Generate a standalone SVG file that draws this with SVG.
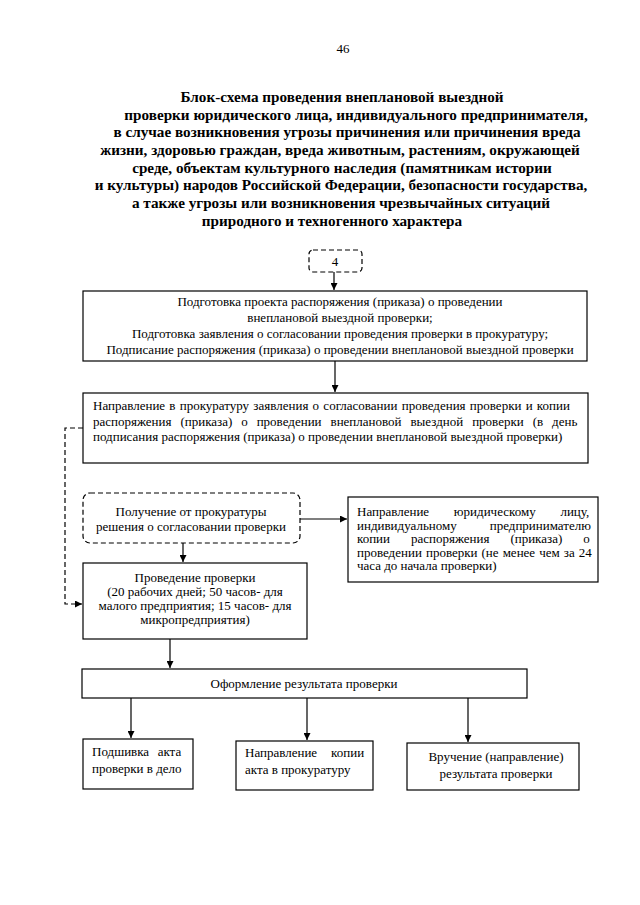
<svg xmlns="http://www.w3.org/2000/svg" width="640" height="905" viewBox="0 0 640 905">
<defs>
<marker id="ah" viewBox="0 0 10 10" refX="10" refY="5" markerWidth="7" markerHeight="7" markerUnits="userSpaceOnUse" orient="auto">
<path d="M0,0 L10,5 L0,10 z" fill="#000"/>
</marker>
<style>
.t{font-family:"Liberation Serif","Times New Roman",serif;font-size:13px;fill:#000}
.h{font-family:"Liberation Serif","Times New Roman",serif;font-size:15.2px;font-weight:bold;fill:#000;text-anchor:middle}
.c{text-anchor:middle}
.box{fill:#fff;stroke:#000;stroke-width:1.2}
.dbox{fill:#fff;stroke:#000;stroke-width:1.2;stroke-dasharray:5 3}
.ln{fill:none;stroke:#000;stroke-width:1.2}
.dl{fill:none;stroke:#000;stroke-width:1.2;stroke-dasharray:5 3}
</style>
</defs>
<rect width="640" height="905" fill="#fff"/>
<text class="t c" x="343" y="53">46</text>
<g id="title">
<text class="h" x="342" y="102">Блок-схема проведения внеплановой выездной</text>
<text class="h" x="356" y="120">проверки юридического лица, индивидуального предпринимателя,</text>
<text class="h" x="347" y="137">в случае возникновения угрозы причинения или причинения вреда</text>
<text class="h" x="340" y="155">жизни, здоровью граждан, вреда животным, растениям, окружающей</text>
<text class="h" x="342" y="173">среде, объектам культурного наследия (памятникам истории</text>
<text class="h" x="341" y="190">и культуры) народов Российской Федерации, безопасности государства,</text>
<text class="h" x="341" y="208">а также угрозы или возникновения чрезвычайных ситуаций</text>
<text class="h" x="332" y="226">природного и техногенного характера</text>
</g>
<g id="connectors">
<path class="ln" d="M334,272 V290" marker-end="url(#ah)"/>
<path class="ln" d="M335,361 V392" marker-end="url(#ah)"/>
<path class="dl" d="M83,428 H65 V604 H82" marker-end="url(#ah)"/>
<path class="ln" d="M300,519 H347" marker-end="url(#ah)"/>
<path class="ln" d="M183,543 V562" marker-end="url(#ah)"/>
<path class="ln" d="M170,639 V668" marker-end="url(#ah)"/>
<path class="ln" d="M131,698 V738" marker-end="url(#ah)"/>
<path class="ln" d="M307,698 V740" marker-end="url(#ah)"/>
<path class="ln" d="M468,698 V742" marker-end="url(#ah)"/>
</g>
<g id="n4">
<rect class="dbox" x="309" y="250" width="53" height="22" rx="4"/>
<text class="t c" x="335" y="266">4</text>
</g>
<g id="n1">
<rect class="box" x="83" y="291" width="504" height="70"/>
<text class="t c" x="340" y="306">Подготовка проекта распоряжения (приказа) о проведении</text>
<text class="t c" x="340" y="322">внеплановой выездной проверки;</text>
<text class="t c" x="340" y="338">Подготовка заявления о согласовании проведения проверки в прокуратуру;</text>
<text class="t c" x="340" y="354">Подписание распоряжения (приказа) о проведении внеплановой выездной проверки</text>
</g>
<g id="n2">
<rect class="box" x="83" y="393" width="505" height="70"/>
<text class="t" x="93" y="410" style="word-spacing:1px">Направление в прокуратуру заявления о согласовании проведения проверки и копии</text>
<text class="t" x="93" y="425.5" style="word-spacing:5.7px">распоряжения (приказа) о проведении внеплановой выездной проверки (в день</text>
<text class="t" x="93" y="441">подписания распоряжения (приказа) о проведении внеплановой выездной проверки)</text>
</g>
<g id="n3">
<rect class="dbox" x="83" y="493" width="217" height="50" rx="7"/>
<text class="t c" x="191" y="516">Получение от прокуратуры</text>
<text class="t c" x="191" y="531">решения о согласовании проверки</text>
</g>
<g id="n5">
<rect class="box" x="348" y="497" width="250" height="85"/>
<text class="t" x="357" y="516" style="word-spacing:21.5px">Направление юридическому лицу,</text>
<text class="t" x="357" y="529.5" style="word-spacing:29.7px">индивидуальному предпринимателю</text>
<text class="t" x="357" y="543" style="word-spacing:17.7px">копии распоряжения (приказа) о</text>
<text class="t" x="357" y="556.5" style="word-spacing:0.8px">проведении проверки (не менее чем за 24</text>
<text class="t" x="357" y="570">часа до начала проверки)</text>
</g>
<g id="n6">
<rect class="box" x="83" y="563" width="224" height="76"/>
<text class="t c" x="195" y="582">Проведение проверки</text>
<text class="t c" x="195" y="596">(20 рабочих дней; 50 часов- для</text>
<text class="t c" x="195" y="610">малого предприятия; 15 часов- для</text>
<text class="t c" x="195" y="624">микропредприятия)</text>
</g>
<g id="n7">
<rect class="box" x="82" y="669" width="445" height="29"/>
<text class="t c" x="304" y="688">Оформление результата проверки</text>
</g>
<g id="n8">
<rect class="box" x="83" y="739" width="110" height="50"/>
<text class="t" x="92" y="756" style="word-spacing:5.3px">Подшивка акта</text>
<text class="t" x="92" y="773">проверки в дело</text>
</g>
<g id="n9">
<rect class="box" x="236" y="741" width="137" height="49"/>
<text class="t" x="245" y="757" style="word-spacing:10.7px">Направление копии</text>
<text class="t" x="245" y="774">акта в прокуратуру</text>
</g>
<g id="n10">
<rect class="box" x="407" y="743" width="172" height="47"/>
<text class="t c" x="496" y="761">Вручение (направление)</text>
<text class="t c" x="496" y="778">результата проверки</text>
</g>
</svg>
